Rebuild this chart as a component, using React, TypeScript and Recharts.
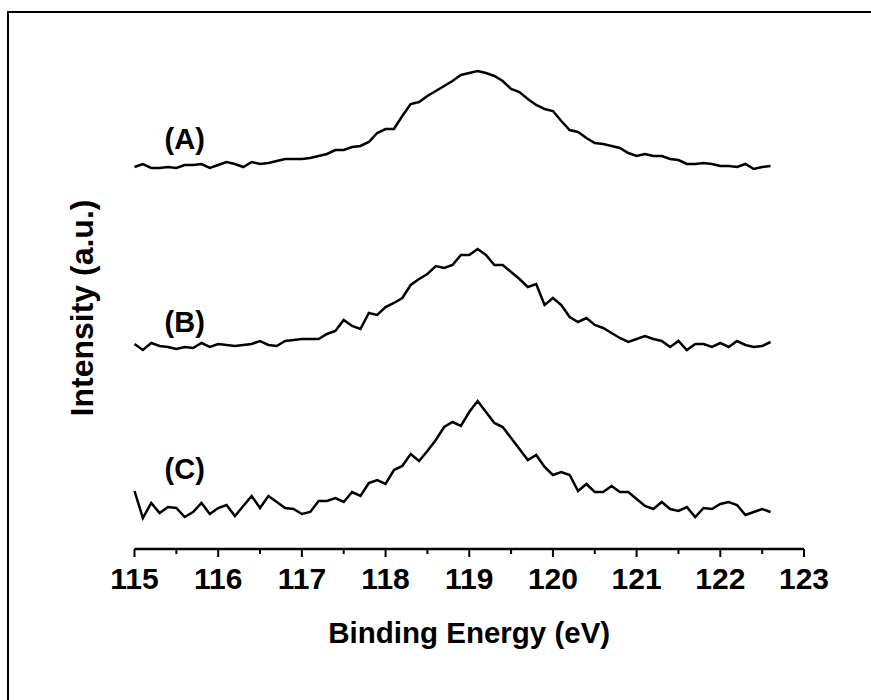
import { LineChart, Line, XAxis, YAxis, ReferenceDot, Label } from 'recharts';

// spectra, offset already applied (a.u.), sampled every 0.1 eV from 115.0 eV
const specA = [
  388, 391, 387, 387, 388, 387, 390, 390, 391, 387, 390, 393, 391, 388, 393, 391, 392, 394, 396, 396,
  396, 397, 399, 401, 405, 405, 408, 409, 413, 422, 426, 426, 439, 451, 453, 459, 464, 469, 474, 480,
  482, 484, 482, 479, 474, 466, 463, 456, 450, 446, 444, 434, 425, 423, 417, 412, 411, 409, 407, 402,
  399, 401, 399, 399, 396, 395, 391, 391, 392, 391, 389, 389, 388, 391, 386, 388, 389,
];
const specB = [
  211, 205, 212, 209, 208, 206, 208, 207, 212, 208, 211, 210, 209, 210, 211, 214, 210, 209, 214, 215,
  216, 216, 216, 221, 224, 235, 229, 226, 242, 240, 248, 252, 257, 270, 276, 281, 289, 287, 290, 300,
  300, 306, 300, 290, 290, 283, 276, 268, 271, 250, 257, 250, 238, 233, 237, 230, 227, 222, 217, 213,
  216, 219, 216, 214, 208, 214, 205, 211, 211, 208, 212, 208, 214, 210, 208, 209, 213,
];
const specC = [
  64, 37, 52, 42, 48, 47, 38, 43, 52, 41, 47, 50, 39, 49, 59, 47, 59, 53, 47, 46,
  41, 43, 54, 54, 57, 53, 63, 59, 72, 75, 71, 85, 89, 101, 94, 104, 115, 128, 133, 129,
  143, 154, 143, 132, 128, 117, 106, 95, 100, 88, 80, 83, 80, 64, 71, 63, 63, 69, 63, 63,
  56, 49, 46, 53, 46, 44, 48, 38, 47, 46, 51, 53, 50, 40, 43, 46, 43,
];
const E_START = 115;
const E_STEP = 0.1;

const xTicks = [115, 115.5, 116, 116.5, 117, 117.5, 118, 118.5, 119, 119.5, 120, 120.5, 121, 121.5, 122, 122.5, 123];
const curveNames = ['(A)', '(B)', '(C)'];
const nameAt = [
  { x: 115.6, y: 416 },
  { x: 115.6, y: 233 },
  { x: 115.6, y: 86 },
];

const data = specA.map((a, i) => ({
  e: +(E_START + i * E_STEP).toFixed(1),
  a,
  b: specB[i],
  c: specC[i],
}));

const FONT = '"Liberation Sans", Arial, sans-serif';

function EnergyTick(props: any) {
  const { x, y, payload } = props;
  const major = Number.isInteger(payload.value);
  return (
    <g>
      <line x1={x} x2={x} y1={y} y2={y + (major ? 8 : 5)} stroke="#000" strokeWidth={2} />
      {major && (
        <text x={x} y={y + 40} textAnchor="middle" fontFamily={FONT} fontWeight="bold" fontSize={30} fill="#000">
          {payload.value}
        </text>
      )}
    </g>
  );
}

function YTitle(props: any) {
  const { x, y, height } = props.viewBox;
  const cx = x + 27;
  const cy = y + height / 2 + 6;
  return (
    <text
      x={cx}
      y={cy}
      transform={`rotate(-90 ${cx} ${cy})`}
      textAnchor="middle"
      dominantBaseline="central"
      fontFamily={FONT}
      fontWeight="bold"
      fontSize={32}
      fill="#000"
    >
      Intensity (a.u.)
    </text>
  );
}

export default function App() {
  return (
    <div style={{ position: 'absolute', left: 0, top: 0, width: 871, height: 700, overflow: 'hidden', background: '#fff' }}>
      <div
        style={{
          position: 'absolute',
          left: 7,
          top: 11,
          width: 2000,
          height: 2000,
          borderLeft: '2.5px solid #000',
          borderTop: '2.5px solid #000',
        }}
      />
      <LineChart
        width={871}
        height={700}
        data={data}
        margin={{ top: 55, right: 67, bottom: 51, left: 54.5 }}
        style={{ position: 'absolute', left: 0, top: 0 }}
      >
        <XAxis
          dataKey="e"
          type="number"
          domain={[115, 123]}
          ticks={xTicks}
          interval={0}
          height={100}
          tickSize={0}
          tickMargin={0}
          tickLine={false}
          axisLine={{ stroke: '#000', strokeWidth: 2.5 }}
          tick={<EnergyTick />}
        >
          <Label
            value="Binding Energy (eV)"
            position="insideBottom"
            offset={6}
            style={{ fontFamily: FONT, fontWeight: 'bold', fontSize: 29.5, fill: '#000' }}
          />
        </XAxis>
        <YAxis
          type="number"
          domain={[6, 500]}
          width={80}
          axisLine={false}
          tickLine={false}
          tick={false}
          label={<YTitle />}
        />
        <Line dataKey="a" stroke="#000" strokeWidth={2.5} dot={false} isAnimationActive={false} />
        <Line dataKey="b" stroke="#000" strokeWidth={2.5} dot={false} isAnimationActive={false} />
        <Line dataKey="c" stroke="#000" strokeWidth={2.5} dot={false} isAnimationActive={false} />
        {nameAt.map((p, i) => (
          <ReferenceDot key={curveNames[i]} x={p.x} y={p.y} r={0} stroke="none" fill="none">
            <Label
              value={curveNames[i]}
              position="center"
              style={{ fontFamily: FONT, fontWeight: 'bold', fontSize: 29, fill: '#000' }}
            />
          </ReferenceDot>
        ))}
      </LineChart>
    </div>
  );
}
